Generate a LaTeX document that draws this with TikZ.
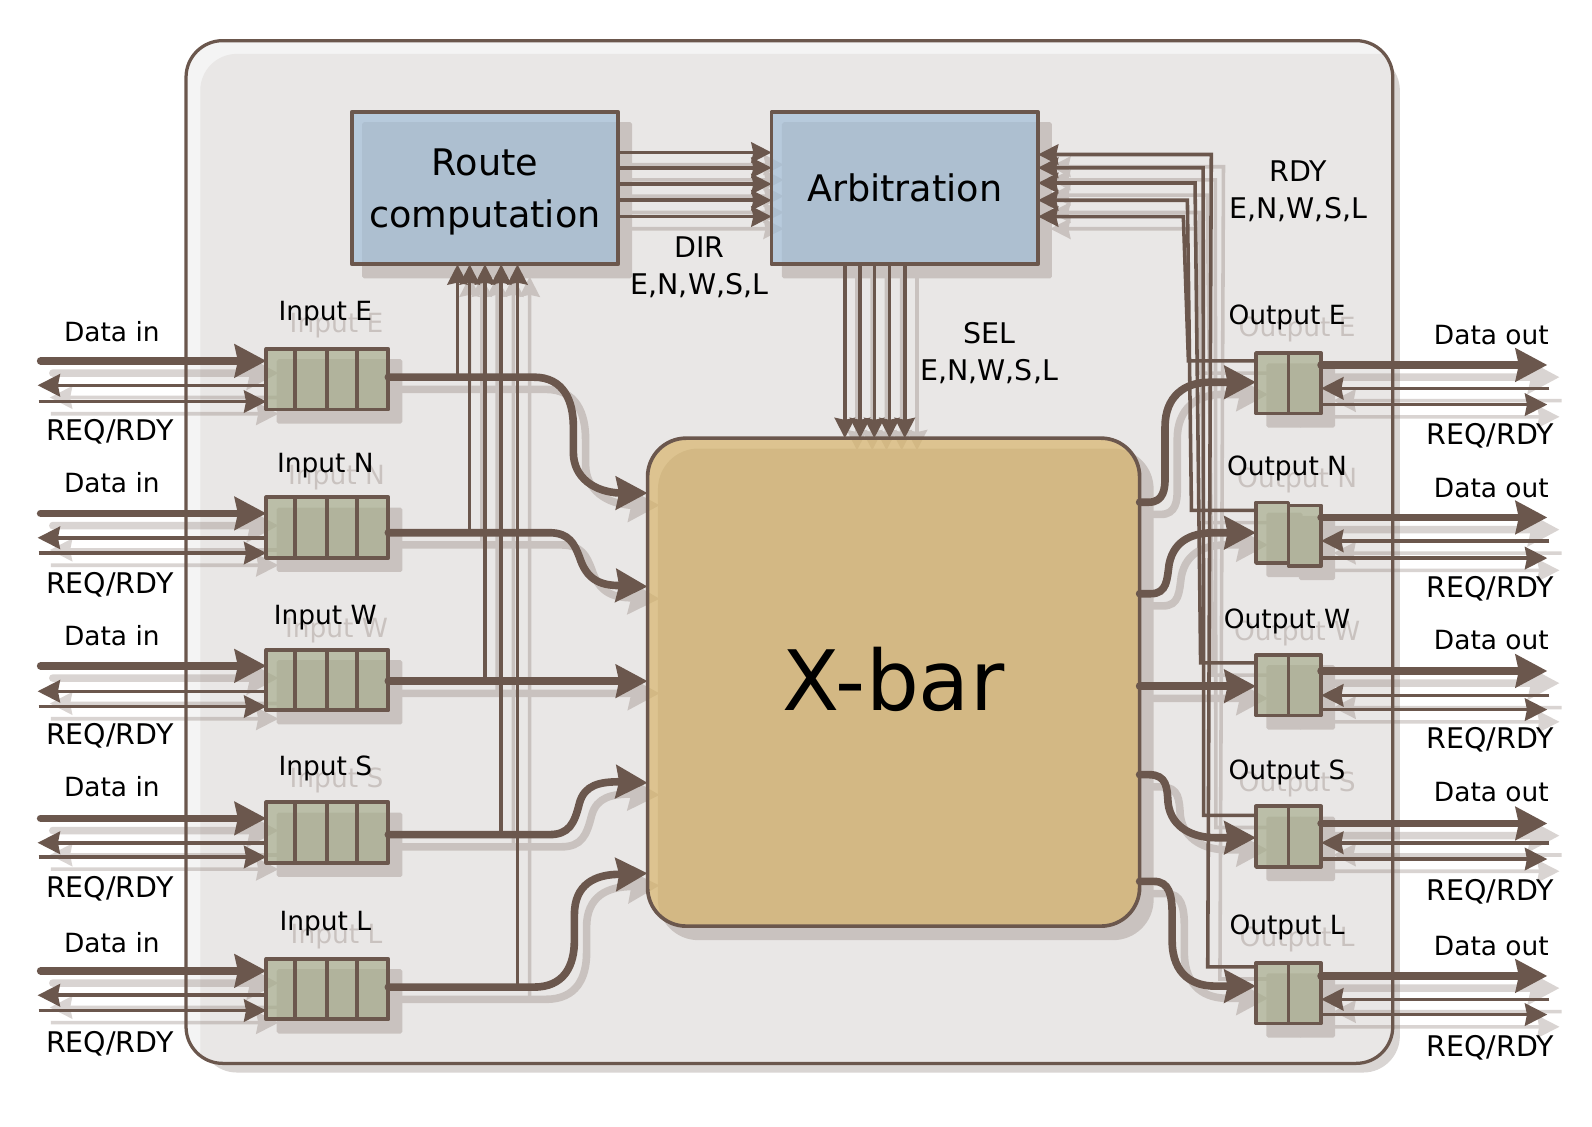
\documentclass[tikz,border=0pt]{standalone}
\usepackage{fontspec}
\setmainfont{DejaVu Sans}
\usetikzlibrary{arrows.meta,calc}
\definecolor{linec}{HTML}{6B574D}
\definecolor{routeblue}{HTML}{A2BED8}
\definecolor{xbarsand}{HTML}{D8B56C}
\definecolor{queuegreen}{HTML}{A8AE8E}
\definecolor{outerlight}{HTML}{F4F4F4}
\definecolor{outerdark}{HTML}{E9E7E6}
\definecolor{outershade}{HTML}{D9D5D3}
\newif\ifshadowpass
\def\fo{.7}
\colorlet{routec}{routeblue}
\colorlet{xbarc}{xbarsand}
\colorlet{queuec}{queuegreen}
\tikzset{
  lab/.style={font=\fontsize{26}{30}\selectfont,inner sep=0pt,text=black,anchor=center},
  capslab/.style={font=\fontsize{28}{30}\selectfont,inner sep=0pt,text=black,anchor=center},
  ghost/.style={font=\fontsize{26}{30}\selectfont,inner sep=0pt,text=linec,anchor=center},
  boxfill/.style={draw=linec,fill=#1,fill opacity=\fo,text opacity=1,outer sep=0pt,inner sep=0pt,line join=round},
  cell/.style={boxfill=queuec,line width=3.8pt},
  wall/.style={draw=linec,line width=3.8pt},
  bigblock/.style={boxfill=routec,line width=3.6pt,minimum width=262pt,minimum height=150pt,align=center,font=\fontsize{36}{51}\selectfont},
  sig/.style={draw=linec,line width=3.5pt},
  fat/.style={draw=linec,line width=7.5pt,line cap=round},
  bigtip/.tip={Stealth[length=31pt,width=32pt,inset=3pt]},
  smalltip/.tip={Stealth[length=22pt,width=22pt,inset=2pt]},
  ctltip/.tip={Stealth[length=20pt,width=20pt,inset=2pt]},
}
\newcommand\boxtext[1]{\ifshadowpass\else #1\fi}
% name, queue top, data y, req y, rdy y, label y, Data in y, REQ y
\newcommand\inrow[8]{%
  \node[cell,minimum width=120pt,minimum height=59.5pt] (q#1) at (322,#2+30) {};
  \foreach \d in {290,322,351} \draw[wall] (\d,0 |- q#1.north) -- (\d,0 |- q#1.south);
  \coordinate (di#1) at (40,#3);
  \coordinate (ri#1) at (37,#4);
  \coordinate (yi#1) at (38,#5);
  \draw[fat,-{bigtip}] (di#1) -- (di#1 -| q#1.west);
  \draw[sig,-{smalltip}] (q#1.west |- ri#1) -- (ri#1);
  \draw[sig,-{smalltip}] (yi#1) -- (yi#1 -| q#1.west);
  \ifshadowpass
    \node[ghost] (gi#1) at (319,#6) {Input #1};
  \else
    \node[lab] (li#1) at (320,#6) {Input #1};
    \node[lab] (ld#1) at (110,#7) {Data in};
    \node[capslab] (lr#1) at (108,#8) {REQ/RDY};
  \fi
}
% name, left top, right top, data y, req y, rdy y, label y, Data out y, REQ y
\newcommand\outrow[9]{%
  \node[cell,minimum width=32pt,minimum height=59.5pt] (o#1) at (1251.5,#2+30) {};
  \node[cell,minimum width=32pt,minimum height=59.5pt] (p#1) at (1283.5,#3+30) {};
  \coordinate (do#1) at (1522,#4);
  \coordinate (ro#1) at (1524,#5);
  \coordinate (yo#1) at (1522,#6);
  \draw[fat,-{bigtip}] (p#1.east |- do#1) -- (do#1);
  \draw[sig,-{smalltip}] (ro#1) -- (ro#1 -| p#1.east);
  \draw[sig,-{smalltip}] (p#1.east |- yo#1) -- (yo#1);
  \ifshadowpass
    \node[ghost] (go#1) at (1264,#7) {Output #1};
  \else
    \node[lab] (lo#1) at (1266,#7) {Output #1};
    \node[lab] (le#1) at (1467,#8) {Data out};
    \node[capslab] (lf#1) at (1466,#9) {REQ/RDY};
  \fi
}
\newcommand\network{%
  % blocks
  \node[bigblock] (route) at (477,185) {\boxtext{\raisebox{-4pt}[\height][\depth]{Route}\\\raisebox{-4pt}[\height][\depth]{computation}}};
  \node[bigblock] (arb) at (890,185) {\boxtext{Arbitration}};
  \node[boxfill=xbarc,line width=3.6pt,rounded corners=38pt,minimum width=484pt,minimum height=480pt,font=\fontsize{82}{90}\selectfont] (xbar) at (879,671) {\boxtext{\raisebox{3pt}[\height][\depth]{X-bar}}};
  % queues
  \inrow{E}{343}{355}{379}{395}{308}{326}{425}
  \inrow{N}{489}{505}{529}{544}{458}{475}{575}
  \inrow{W}{639}{655}{680}{695}{608}{625}{724}
  \inrow{S}{789}{805}{829}{843}{756}{774}{874}
  \inrow{L}{943}{955}{979}{994}{909}{927}{1027}
  \outrow{E}{347}{347}{359}{382}{398}{312}{330}{429}
  \outrow{N}{494}{497}{509}{532}{549}{461}{480}{579}
  \outrow{W}{644}{644}{660}{684}{698}{611}{630}{728}
  \outrow{S}{793}{793}{810}{829}{845}{760}{779}{877}
  \outrow{L}{947}{947}{960}{983}{998}{912}{931}{1031}
  % input queue to crossbar
  \draw[fat,-{bigtip}] (qE.east |- 0,371) -- (525,371) .. controls (555,371) and (564,395) .. (564,420) -- (564,445) .. controls (564,470) and (585,484) .. (610,485) -- (xbar.west |- 0,485);
  \draw[fat,-{bigtip}] (qN.east |- 0,524) -- (540,524) .. controls (560,524) and (565,535) .. (570,548) .. controls (577,570) and (590,576) .. (610,576) -- (xbar.west |- 0,577);
  \draw[fat,-{bigtip}] (qW.east |- 0,670) -- (xbar.west |- 0,670);
  \draw[fat,-{bigtip}] (qS.east |- 0,821) -- (540,821) .. controls (560,821) and (565,810) .. (570,790) .. controls (575,772) and (590,769) .. (610,769) -- (xbar.west |- 0,770);
  \draw[fat,-{bigtip}] (qL.east |- 0,971) -- (525,971) .. controls (555,971) and (565,950) .. (565,925) -- (565,900) .. controls (565,870) and (585,860) .. (610,860) -- (xbar.west |- 0,859);
  % crossbar to output queues
  \draw[fat,-{bigtip}] (xbar.east |- 0,494) -- (1130,494) .. controls (1145,494) and (1146,480) .. (1146,470) -- (1146,420) .. controls (1146,390) and (1165,376) .. (1190,376) -- (oE.west |- 0,376);
  \draw[fat,-{bigtip}] (xbar.east |- 0,584) -- (1132,584) .. controls (1148,584) and (1148,570) .. (1150,555) .. controls (1155,530) and (1175,524) .. (1195,524) -- (oN.west |- 0,524);
  \draw[fat,-{bigtip}] (xbar.east |- 0,675) -- (oW.west |- 0,675);
  \draw[fat,-{bigtip}] (xbar.east |- 0,762) -- (1130,762) .. controls (1148,762) and (1148,775) .. (1149,790) .. controls (1152,815) and (1175,824) .. (1195,824) -- (oS.west |- 0,824);
  \draw[fat,-{bigtip}] (xbar.east |- 0,867) -- (1135,867) .. controls (1150,867) and (1153,880) .. (1153,900) -- (1153,925) .. controls (1153,960) and (1175,970) .. (1195,970) -- (oL.west |- 0,970);
  % input queues to route computation
  \draw[sig,-{ctltip}] (450,371) -- (450,0 |- route.south);
  \draw[sig,-{ctltip}] (462,524) -- (462,0 |- route.south);
  \draw[sig,-{ctltip}] (477,670) -- (477,0 |- route.south);
  \draw[sig,-{ctltip}] (493,821) -- (493,0 |- route.south);
  \draw[sig,-{ctltip}] (509,971) -- (509,0 |- route.south);
  % route computation to arbitration
  \foreach \y in {150,165,181,197,213}
    \draw[sig,-{ctltip}] (route.east |- 0,\y) -- (arb.west |- 0,\y);
  % arbitration to crossbar
  \foreach \x in {831,846,860,875,890}
    \draw[sig,-{ctltip}] (\x,0 |- arb.south) -- (\x,0 |- xbar.north);
  % ready lines
  \draw[sig,line join=miter,-{ctltip}] (oE.west |- 0,355) -- (1169,355) -- (1164,213) -- (arb.east |- 0,213);
  \draw[sig,line join=miter,-{ctltip}] (oN.west |- 0,502) -- (1172,502) -- (1168,197) -- (arb.east |- 0,197);
  \draw[sig,line join=miter,-{ctltip}] (oW.west |- 0,652) -- (1181,652) -- (1175.5,180) -- (arb.east |- 0,180);
  \draw[sig,line join=miter,-{ctltip}] (oS.west |- 0,802) -- (1184,802) -- (1183.5,165) -- (arb.east |- 0,165);
  \draw[sig,line join=miter,-{ctltip}] (oL.west |- 0,951) -- (1188,951) -- (1191.5,152) -- (arb.east |- 0,152);
}
\begin{document}
\begin{tikzpicture}[x=1pt,y=-1pt]
  \useasboundingbox (0,0) rectangle (1566,1108);
  \fill[white] (0,0) rectangle (1566,1108);
  % router frame and its shadow
  \fill[outershade,rounded corners=36pt] (197,53) rectangle (1377,1055);
  \node[fill=outerlight,rounded corners=36pt,minimum width=1187pt,minimum height=1006pt,outer sep=0pt,inner sep=0pt] (router) at (776.5,543) {};
  \begin{scope}
    \clip[rounded corners=36pt] (183,40) rectangle (1370,1046);
    \fill[outerdark,rounded corners=36pt] (197,53) rectangle (1400,1080);
  \end{scope}
  \node[draw=linec,line width=3.2pt,rounded corners=36pt,minimum width=1187pt,minimum height=1006pt,outer sep=0pt,inner sep=0pt] (frame) at (776.5,543) {};
  % drop shadow of everything
  \begin{scope}[shift={(12,12)},transparency group,opacity=.25]
    \shadowpasstrue
    \def\fo{1}
    \colorlet{routec}{linec}
    \colorlet{xbarc}{linec}
    \colorlet{queuec}{linec}
    \network
  \end{scope}
  % the diagram itself
  \network
  \node[capslab] (rdy) at (1277,168) {RDY};
  \node[capslab] (rdyl) at (1277,206) {E,N,W,S,L};
  \node[capslab] (dir) at (688,243) {DIR};
  \node[capslab] (dirl) at (688,281) {E,N,W,S,L};
  \node[capslab] (sel) at (973,328) {SEL};
  \node[capslab] (sell) at (973,366) {E,N,W,S,L};
\end{tikzpicture}
\end{document}
